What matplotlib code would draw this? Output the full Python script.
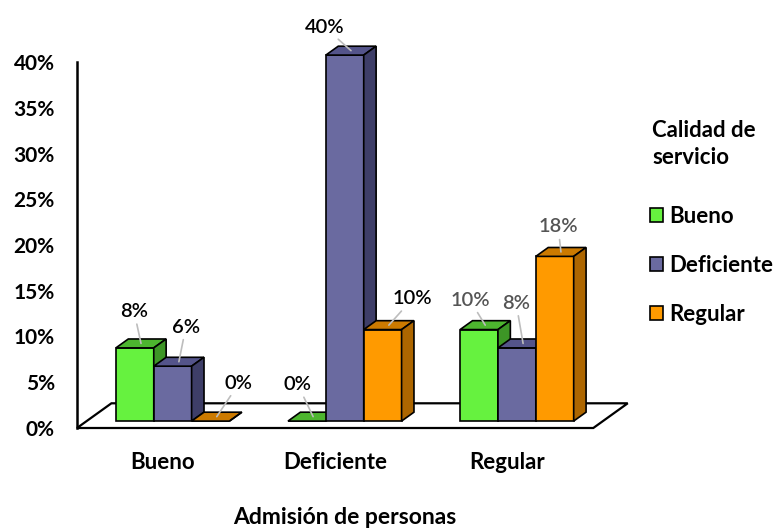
import matplotlib
matplotlib.use('Agg')
import matplotlib.pyplot as plt
from matplotlib.patches import Polygon, Patch
from matplotlib.ticker import FuncFormatter

# data (percent of respondents)
categorias = ['Bueno', 'Deficiente', 'Regular']
serie_bueno = [8, 0, 10]
serie_deficiente = [6, 40, 8]
serie_regular = [0, 10, 18]
series = ['Bueno', 'Deficiente', 'Regular']
valores = [serie_bueno, serie_deficiente, serie_regular]
y_ticks = [0, 5, 10, 15, 20, 25, 30, 35, 40]

# colours: front, top, side
colores = [('#66f23f', '#4db52f', '#3d9626'),
           ('#6a6aa0', '#54548a', '#3e3e68'),
           ('#ff9a00', '#cc7a00', '#ad6600')]
# label offsets (points) for each series/category
offsets = [[(-5, 23), (-11, 23), (-11, 18)],
           [(5, 25), (-19, 17), (-5, 29)],
           [(16, 24), (17, 19), (-2, 18)]]
label_color = ['black', 'black', '#555555']

plt.rcParams['font.family'] = ['Lato', 'DejaVu Sans']

fig = plt.figure(figsize=(7.81, 5.30), dpi=100)
ax = fig.add_axes([77/781, 102/530, 549/781, 366/530])
ax.set_xlim(-0.5, 2.69)
ax.set_ylim(0, 40)

# floor of the 3d box
floor_dx, floor_dy = 0.2, 2.7
floor = Polygon([(-0.5, 0), (2.5, 0), (2.5 + floor_dx, floor_dy), (-0.5 + floor_dx, floor_dy)],
                closed=True, facecolor='white', edgecolor='black', lw=1.6, clip_on=False, zorder=1)
ax.add_patch(floor)

# bars sit part way into the floor
front_frac, depth_frac = 0.28, 0.36
base = front_frac * floor_dy
shift = front_frac * floor_dx
dx, dy = depth_frac * floor_dx, depth_frac * floor_dy
w = 0.22

z = 2
for i, cat in enumerate(categorias):
    for j in range(len(series)):
        v = valores[j][i]
        front, top, side = colores[j]
        x0 = i + shift + (j - 1.5) * w
        ax.bar(x0, v, width=w, bottom=base, align='edge', color=front,
               edgecolor='black', lw=1.2, clip_on=False, zorder=z)
        y1 = base + v
        ax.add_patch(Polygon([(x0, y1), (x0 + w, y1), (x0 + w + dx, y1 + dy), (x0 + dx, y1 + dy)],
                             closed=True, facecolor=top, edgecolor='black', lw=1.2,
                             clip_on=False, zorder=z))
        ax.add_patch(Polygon([(x0 + w, base), (x0 + w + dx, base + dy), (x0 + w + dx, y1 + dy), (x0 + w, y1)],
                             closed=True, facecolor=side, edgecolor='black', lw=1.2,
                             clip_on=False, zorder=z))
        ax.annotate(f'{v}%', xy=(x0 + w / 2 + dx / 2, y1 + dy / 2), xytext=offsets[j][i],
                    textcoords='offset points', ha='center', va='center', fontsize=14.5,
                    fontweight='semibold', color=label_color[i], annotation_clip=False, zorder=10,
                    arrowprops=dict(arrowstyle='-', color='#bdbdbd', lw=1.2, shrinkA=1, shrinkB=0))
        z += 1

for s in ['top', 'right', 'bottom']:
    ax.spines[s].set_visible(False)
ax.spines['left'].set_linewidth(1.8)
ax.spines['left'].set_zorder(0)

ax.set_yticks(y_ticks)
ax.yaxis.set_major_formatter(FuncFormatter(lambda y, _: f'{y:.0f}%'))
ax.tick_params(axis='y', length=0, pad=16, labelsize=15)
ax.set_xticks(range(len(categorias)))
ax.set_xticklabels(categorias)
ax.tick_params(axis='x', length=0, pad=17, labelsize=16)
for t in ax.get_xticklabels() + ax.get_yticklabels():
    t.set_fontweight('bold')

ax.set_xlabel('Admisión de personas', fontsize=16.5, fontweight='bold')
ax.xaxis.set_label_coords(0.488, -0.215)

# legend
fig.text(652/781, 1 - 120/530, 'Calidad de\nservicio', fontsize=16, fontweight='bold',
         ha='left', va='top', linespacing=1.35)
handles = [Patch(facecolor=c[0], edgecolor='black', lw=1.2) for c in colores]
leg = fig.legend(handles, series, loc='upper left', bbox_to_anchor=(650/781, 1 - 206/530),
                 frameon=False, fontsize=16, handlelength=0.6, handleheight=0.6,
                 handletextpad=0.25, labelspacing=1.25, borderpad=0, borderaxespad=0)
for t in leg.get_texts():
    t.set_fontweight('bold')

fig.savefig('out.png', dpi=100)
